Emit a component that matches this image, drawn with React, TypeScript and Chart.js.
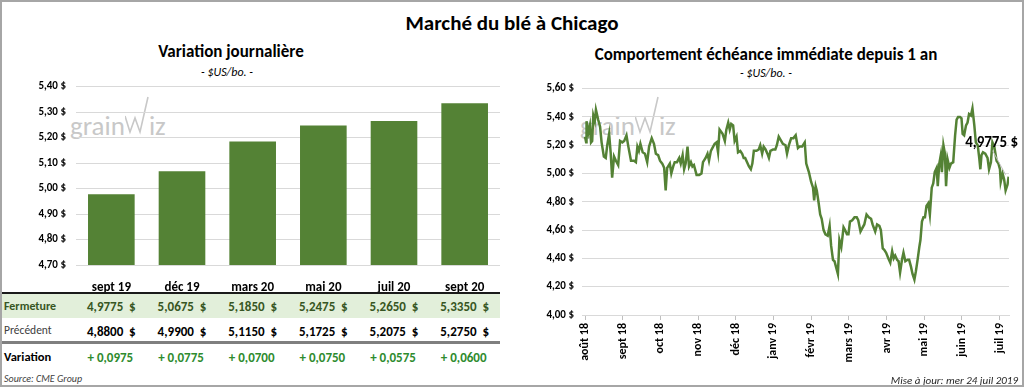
import React, { useEffect, useRef } from "react";
import { Chart, registerables } from "chart.js";

Chart.register(...registerables);

const FONT = "Carlito, Calibri, Lato, sans-serif";

// ---------- Left chart + table data ----------
const contracts = ["sept 19", "déc 19", "mars 20", "mai 20", "juil 20", "sept 20"];
const closePrices = [4.9775, 5.0675, 5.185, 5.2475, 5.265, 5.335];
const previousPrices = [4.88, 4.99, 5.115, 5.1725, 5.2075, 5.275];
const changes = [0.0975, 0.0775, 0.07, 0.075, 0.0575, 0.06];
const barAxisMin = 4.7;
const barAxisMax = 5.4;
const barAxisStep = 0.1;

// ---------- Right chart data ----------
const monthLabels = [
  "août 18", "sept 18", "oct 18", "nov 18", "déc 18", "janv 19",
  "févr 19", "mars 19", "avr 19", "mai 19", "juin 19", "juil 19",
];
// position in months since the "août 18" tick
const nearbyMonths = [
  0.0, 0.03, 0.04, 0.09, 0.13, 0.16, 0.19, 0.22, 0.26, 0.29,
  0.35, 0.4, 0.44, 0.5, 0.55, 0.59, 0.64, 0.68, 0.72, 0.77,
  0.82, 0.88, 0.93, 0.99, 1.04, 1.1, 1.15, 1.22, 1.3, 1.35,
  1.39, 1.43, 1.47, 1.53, 1.59, 1.65, 1.7, 1.77, 1.83, 1.88,
  1.94, 1.99, 2.05, 2.1, 2.14, 2.18, 2.25, 2.29, 2.34, 2.38,
  2.44, 2.5, 2.54, 2.59, 2.63, 2.67, 2.72, 2.76, 2.81, 2.85,
  2.89, 2.96, 3.03, 3.09, 3.13, 3.2, 3.25, 3.29, 3.34, 3.4,
  3.44, 3.49, 3.53, 3.57, 3.65, 3.71, 3.75, 3.8, 3.84, 3.88,
  3.93, 3.97, 4.02, 4.06, 4.12, 4.17, 4.21, 4.25, 4.3, 4.35,
  4.4, 4.44, 4.48, 4.55, 4.61, 4.65, 4.7, 4.74, 4.79, 4.84,
  4.88, 4.92, 4.99, 5.05, 5.09, 5.14,
  5.25, 5.32, 5.36, 5.41, 5.47, 5.53, 5.59, 5.65, 5.69, 5.76,
  5.83, 5.87, 5.94, 6.0, 6.05, 6.08, 6.12, 6.15, 6.2, 6.24,
  6.28, 6.33, 6.38, 6.44, 6.49, 6.53, 6.58, 6.62, 6.66, 6.71,
  6.75, 6.8, 6.86, 6.9, 6.95, 6.99, 7.03, 7.09, 7.15, 7.21,
  7.25, 7.31, 7.35, 7.41, 7.47, 7.53, 7.59, 7.63, 7.7, 7.75,
  7.81, 7.85, 7.9, 7.94, 7.99, 8.05, 8.1, 8.15, 8.19, 8.23,
  8.28, 8.32, 8.36, 8.41, 8.45, 8.5, 8.56, 8.6, 8.65, 8.69,
  8.74, 8.78, 8.83, 8.87, 8.9, 8.94, 8.98, 9.02, 9.06, 9.11,
  9.15, 9.2, 9.24, 9.28, 9.33, 9.36, 9.4, 9.44, 9.47, 9.51,
  9.55, 9.58, 9.62, 9.67, 9.71, 9.77, 9.82, 9.86, 9.9, 9.95,
  9.99, 10.02, 10.06, 10.11, 10.15, 10.19, 10.24, 10.28, 10.33, 10.37,
  10.42, 10.46, 10.49, 10.52, 10.56, 10.62, 10.68, 10.72, 10.77, 10.81,
  10.86, 10.92, 10.97, 11.01, 11.03, 11.08, 11.12, 11.16, 11.21, 11.24,
];
const nearbyPrices = [
  5.26, 5.22, 5.37, 5.29, 5.34, 5.22, 5.23, 5.41, 5.37, 5.45,
  5.38, 5.33, 5.22, 5.12, 5.11, 5.2, 5.28, 5.15, 4.97, 5.12,
  5.09, 5.06, 5.23, 5.22, 5.23, 5.27, 5.19, 5.09, 5.09, 5.08,
  5.19, 5.16, 5.21, 5.15, 5.14, 5.08, 5.19, 5.25, 5.21, 5.14,
  5.13, 5.09, 5.07, 5.04, 4.88, 5.04, 5.07, 5.0, 5.05, 5.08,
  5.08, 5.11, 5.07, 5.13, 5.03, 5.07, 5.19, 5.05, 5.08, 5.05,
  5.06, 4.99, 4.99, 5.0, 5.08, 5.11, 5.14, 5.09, 5.16, 5.19,
  5.21, 5.22, 5.15, 5.31, 5.28, 5.23, 5.31, 5.36, 5.31, 5.35,
  5.34, 5.23, 5.26, 5.15, 5.16, 5.14, 5.11, 5.11, 5.08, 5.05,
  5.03, 5.07, 5.16, 5.16, 5.17, 5.2, 5.14, 5.19, 5.17, 5.14,
  5.11, 5.16, 5.17, 5.17, 5.2, 5.26,
  5.21, 5.2, 5.14, 5.2, 5.25, 5.25, 5.27, 5.18, 5.19, 5.19,
  5.22, 5.07, 5.01, 4.94, 4.9, 4.81, 4.91, 4.88, 4.79, 4.71,
  4.68, 4.6, 4.57, 4.56, 4.63, 4.49, 4.39, 4.38, 4.34, 4.29,
  4.53, 4.48, 4.62, 4.6, 4.57, 4.57, 4.66, 4.67, 4.69, 4.69,
  4.67, 4.59, 4.61, 4.64, 4.71, 4.69, 4.68, 4.64, 4.59, 4.64,
  4.63, 4.6, 4.47, 4.46, 4.44, 4.4, 4.37, 4.45, 4.4, 4.42,
  4.39, 4.38, 4.3, 4.39, 4.44, 4.38, 4.39, 4.39, 4.34, 4.29,
  4.25, 4.31, 4.4, 4.48, 4.53, 4.66, 4.69, 4.69, 4.77, 4.79,
  4.71, 4.9, 4.93, 5.01, 5.04, 4.91, 5.07, 5.13, 5.01, 5.2,
  5.14, 4.91, 5.1, 5.04, 5.07, 5.08, 5.27, 5.38, 5.4, 5.4,
  5.39, 5.28, 5.27, 5.34, 5.36, 5.42, 5.41, 5.46, 5.34, 5.22,
  5.2, 5.11, 5.03, 5.13, 5.15, 5.14, 5.11, 5.03, 5.08, 5.22,
  5.19, 5.09, 5.07, 5.03, 4.94, 5.0, 4.96, 4.88, 4.92, 4.9775,
];
const lineAxisMin = 4.0;
const lineAxisMax = 5.6;
const lineAxisStep = 0.2;
const lastPriceLabel = "4,9775 $";

const GREEN = "#548235";

const fmt2 = (v: number) => v.toFixed(2).replace(".", ",") + " $";
const fmt4 = (v: number) => v.toFixed(4).replace(".", ",");

const lastLabelPlugin = {
  id: "lastLabel",
  afterDatasetsDraw(chart: any) {
    const meta = chart.getDatasetMeta(0);
    const pt = meta.data[meta.data.length - 1];
    if (!pt) return;
    const ctx = chart.ctx;
    ctx.save();
    ctx.strokeStyle = "#bfbfbf";
    ctx.lineWidth = 1;
    ctx.beginPath();
    ctx.moveTo(pt.x - 16, pt.y - 26);
    ctx.lineTo(pt.x - 3, pt.y - 2);
    ctx.stroke();
    ctx.font = `bold 15px ${FONT}`;
    ctx.fillStyle = "#000";
    ctx.textAlign = "center";
    ctx.textBaseline = "middle";
    ctx.fillText(lastPriceLabel, pt.x - 17, pt.y - 33);
    ctx.restore();
  },
};

function Watermark({ left, top }: { left: number; top: number }) {
  return (
    <div style={{ position: "absolute", left, top, color: "#c8c8c8", fontFamily: FONT, fontWeight: 300, fontSize: 27, lineHeight: "30px", whiteSpace: "nowrap", display: "flex", alignItems: "flex-end" }}>
      <span>grain</span>
      <svg width="24" height="40" viewBox="0 0 24 40" style={{ marginLeft: 0, marginBottom: 6 }}>
        <polyline points="0,21 5,37 10,23 15,37 23,2" fill="none" stroke="#c8c8c8" strokeWidth="1.6" />
      </svg>
      <span>iz</span>
    </div>
  );
}

export default function App() {
  const barRef = useRef<HTMLCanvasElement>(null);
  const lineRef = useRef<HTMLCanvasElement>(null);

  useEffect(() => {
    Chart.defaults.font.family = FONT;
    const bar = new Chart(barRef.current!, {
      type: "bar",
      data: {
        labels: contracts,
        datasets: [
          {
            data: closePrices,
            backgroundColor: GREEN,
            barPercentage: 0.66,
            categoryPercentage: 1,
          },
        ],
      },
      options: {
        animation: false,
        responsive: false,
        maintainAspectRatio: false,
        layout: { padding: { top: 1, right: 5, left: 0, bottom: 0 } },
        plugins: { legend: { display: false }, tooltip: { enabled: false } },
        scales: {
          x: {
            grid: { display: false },
            border: { display: false },
            ticks: { font: { size: 13, weight: "bold" }, color: "#000", padding: 7 },
            afterFit: (s: any) => {
              s.height = 27;
            },
          },
          y: {
            min: barAxisMin,
            max: barAxisMax,
            ticks: {
              stepSize: barAxisStep,
              callback: (v: any) => fmt2(Number(v)),
              font: { size: 11, weight: "bold" },
              color: "#000",
              padding: 10,
            },
            grid: { color: "#d9d9d9", drawTicks: false },
            border: { display: false },
            afterFit: (s: any) => {
              s.width = 76;
            },
          },
        },
      },
    } as any);

    const line = new Chart(lineRef.current!, {
      type: "line",
      data: {
        datasets: [
          {
            data: nearbyMonths.map((x, i) => ({ x, y: nearbyPrices[i] })),
            borderColor: GREEN,
            borderWidth: 2.5,
            pointRadius: 0,
            tension: 0,
            fill: false,
          },
        ],
      },
      options: {
        animation: false,
        responsive: false,
        maintainAspectRatio: false,
        layout: { padding: { top: 4, right: 15, left: 0, bottom: 0 } },
        plugins: { legend: { display: false }, tooltip: { enabled: false } },
        scales: {
          x: {
            type: "linear",
            min: -0.08,
            max: 11.25,
            afterBuildTicks: (s: any) => {
              s.ticks = monthLabels.map((_, i) => ({ value: i }));
            },
            ticks: {
              autoSkip: false,
              maxRotation: 90,
              minRotation: 90,
              callback: (v: any) => monthLabels[Math.round(Number(v))],
              font: { size: 12, weight: "bold" },
              color: "#000",
              padding: 3,
            },
            grid: { drawOnChartArea: false, drawTicks: true, tickLength: 5, color: "#bfbfbf" },
            border: { display: true, color: "#d9d9d9" },
            afterFit: (s: any) => {
              s.height = 59;
            },
          },
          y: {
            min: lineAxisMin,
            max: lineAxisMax,
            ticks: {
              stepSize: lineAxisStep,
              callback: (v: any) => fmt2(Number(v)),
              font: { size: 11, weight: "bold" },
              color: "#000",
              padding: 8,
            },
            grid: { color: "#d9d9d9", drawTicks: false },
            border: { display: false },
            afterFit: (s: any) => {
              s.width = 70;
            },
          },
        },
      },
      plugins: [lastLabelPlugin],
    } as any);

    return () => {
      bar.destroy();
      line.destroy();
    };
  }, []);

  const colCenters = contracts.map((_, i) => 76 + (424 / contracts.length) * (i + 0.5));

  const abs = (style: React.CSSProperties): React.CSSProperties => ({ position: "absolute", ...style });
  const centered = (x: number, y: number, style: React.CSSProperties = {}): React.CSSProperties => ({
    position: "absolute",
    left: x,
    top: y,
    transform: "translate(-50%, -50%)",
    whiteSpace: "nowrap",
    lineHeight: 1,
    ...style,
  });

  return (
    <div style={{ position: "fixed", left: 0, top: 0, width: 1024, height: 387, background: "#fff", overflow: "hidden", fontFamily: FONT, color: "#000" }}>
      {/* title */}
      <div style={centered(512, 23, { fontSize: 21, fontWeight: 700 })}>Marché du blé à Chicago</div>

      {/* left chart headers */}
      <div style={centered(231, 51, { fontSize: 17, fontWeight: 700 })}>Variation journalière</div>
      <div style={centered(227, 72, { fontSize: 12, fontStyle: "italic" })}>- $US/bo. -</div>

      {/* right chart headers */}
      <div style={centered(766, 54, { fontSize: 17, fontWeight: 700 })}>Comportement échéance immédiate depuis 1 an</div>
      <div style={centered(766, 73, { fontSize: 12, fontStyle: "italic" })}>- $US/bo. -</div>

      {/* watermarks */}
      <Watermark left={70} top={95} />
      <Watermark left={580} top={95} />

      {/* charts */}
      <canvas ref={barRef} width={505} height={222} style={abs({ left: 0, top: 70, width: 505, height: 222 })} />
      <canvas ref={lineRef} width={512} height={300} style={abs({ left: 512, top: 74, width: 512, height: 300 })} />

      {/* table */}
      <div style={abs({ left: 0, top: 292, width: 500, height: 2, background: "#1a1a1a" })} />
      <div style={abs({ left: 0, top: 294, width: 500, height: 24, background: "#e2efda" })} />
      <div style={abs({ left: 0, top: 341, width: 500, height: 3, background: "#7f7f7f" })} />

      <div style={abs({ left: 4, top: 306, transform: "translateY(-50%)", fontSize: 12, fontWeight: 700, color: "#375623", lineHeight: 1 })}>Fermeture</div>
      <div style={abs({ left: 4, top: 331, transform: "translateY(-50%)", fontSize: 11.5, color: "#404040", lineHeight: 1 })}>Précédent</div>
      <div style={abs({ left: 4, top: 357, transform: "translateY(-50%)", fontSize: 12.5, fontWeight: 700, color: "#000", lineHeight: 1 })}>Variation</div>

      {colCenters.map((cx, i) => (
        <React.Fragment key={contracts[i]}>
          <div style={centered(cx, 306, { fontSize: 13, fontWeight: 700, color: "#375623" })}>
            {fmt4(closePrices[i])}
            {"\u00a0\u00a0$"}
          </div>
          <div style={centered(cx, 331, { fontSize: 13, fontWeight: 700, color: "#000" })}>
            {fmt4(previousPrices[i])}
            {"\u00a0\u00a0$"}
          </div>
          <div style={centered(cx - 1, 357, { fontSize: 13, fontWeight: 700, color: "#2e8b2e" })}>
            {"+ " + fmt4(changes[i])}
          </div>
        </React.Fragment>
      ))}

      <div style={abs({ left: 4, top: 379, transform: "translateY(-50%)", fontSize: 10, fontStyle: "italic", color: "#404040", lineHeight: 1 })}>Source: CME Group</div>
      <div style={abs({ right: 6, top: 380, transform: "translateY(-50%)", fontSize: 11, fontStyle: "italic", color: "#262626", lineHeight: 1, whiteSpace: "nowrap" })}>Mise à jour: mer 24 juil 2019</div>

      {/* outer frame */}
      <div style={abs({ left: 0, top: 0, width: 1024, height: 387, boxSizing: "border-box", border: "2px solid #a6a6a6", pointerEvents: "none" })} />
    </div>
  );
}
